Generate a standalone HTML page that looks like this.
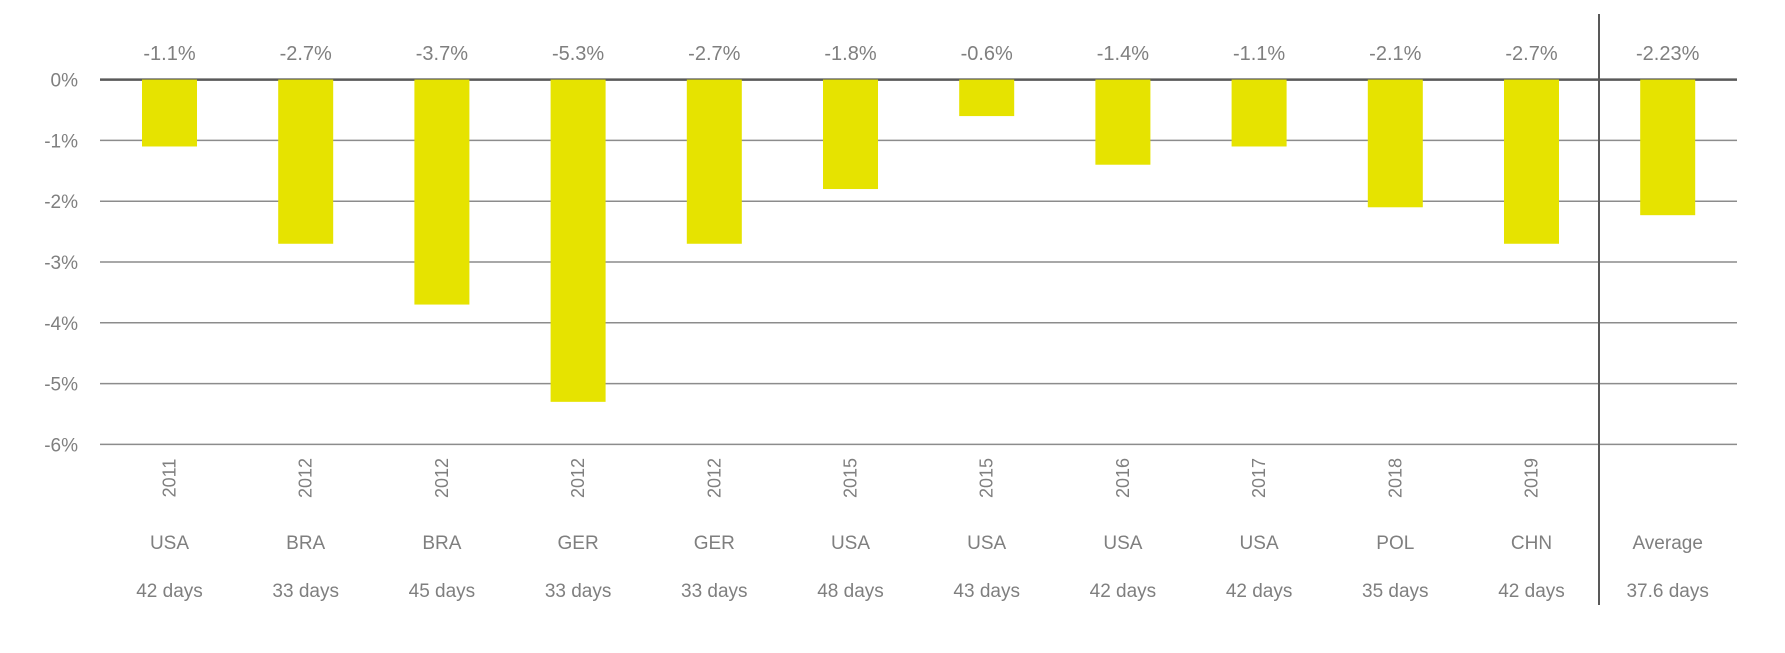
<!DOCTYPE html>
<html><head><meta charset="utf-8"><style>
body{margin:0;background:#fff}
svg text{font-family:"Liberation Sans",sans-serif;fill:#7f7f7f}
</style></head><body>
<svg id="c" width="1785" height="648" xmlns="http://www.w3.org/2000/svg"></svg>
<script>
const years=["2011","2012","2012","2012","2012","2015","2015","2016","2017","2018","2019",""];
const countries=["USA","BRA","BRA","GER","GER","USA","USA","USA","USA","POL","CHN","Average"];
const durations=["42  days","33  days","45  days","33  days","33  days","48 days","43 days","42 days","42 days","35  days","42  days","37.6 days"];
const values=[-1.1,-2.7,-3.7,-5.3,-2.7,-1.8,-0.6,-1.4,-1.1,-2.1,-2.7,-2.23];
const valueLabels=["-1.1%","-2.7%","-3.7%","-5.3%","-2.7%","-1.8%","-0.6%","-1.4%","-1.1%","-2.1%","-2.7%","-2.23%"];
const ticks=[0,-1,-2,-3,-4,-5,-6];
const tickLabels=["0%","-1%","-2%","-3%","-4%","-5%","-6%"];
const svg=document.getElementById('c');const NS="http://www.w3.org/2000/svg";
const L=100,R=1737,Y0=79.6,step=60.8;
const y=v=>Y0-v*step;
const x=i=>169.5+i*136.2;
function mk(t,a,txt){const e=document.createElementNS(NS,t);for(const k in a)e.setAttribute(k,a[k]);if(txt!==undefined)e.textContent=txt;svg.appendChild(e);return e;}
ticks.forEach((t,i)=>{
 const g=mk('line',{x1:L,x2:R,y1:y(t),y2:y(t),stroke:t===0?'#595959':'#8c8c8c','stroke-width':t===0?2.5:1.5});
 
 const tl=mk('text',{x:78,y:y(t)+7,'text-anchor':'end','font-size':19},tickLabels[i]);
 
});
values.forEach((v,i)=>{
 const b=mk('rect',{x:x(i)-27.5,y:y(0),width:55,height:y(v)-y(0),fill:'#e6e300'});
 
 const vl=mk('text',{x:x(i),y:60,'text-anchor':'middle','font-size':20},valueLabels[i]);
 
 if(years[i]){const yl=mk('text',{x:0,y:0,'text-anchor':'middle','font-size':18,transform:`translate(${x(i)+6},478) rotate(-90)`},years[i]);
 }
 const cl=mk('text',{x:x(i),y:549,'text-anchor':'middle','font-size':19},countries[i]);
 
 const dl=mk('text',{x:x(i),y:597,'text-anchor':'middle','font-size':19},durations[i]);
 
});
const s=mk('line',{x1:1599,x2:1599,y1:14,y2:605,stroke:'#595959','stroke-width':2});

</script>
</body></html>
